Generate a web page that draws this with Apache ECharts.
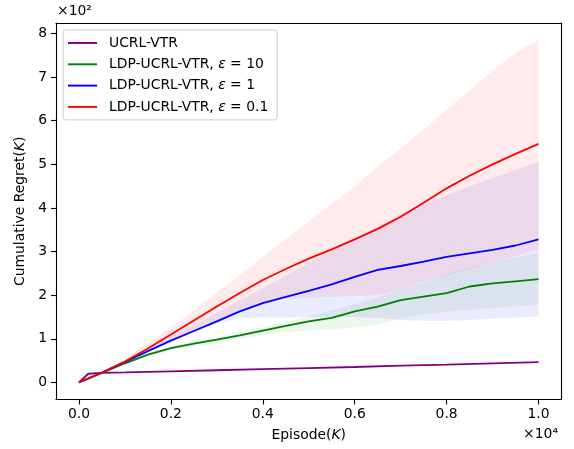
<!DOCTYPE html>
<html>
<head>
<meta charset="utf-8">
<script src="https://cdn.jsdelivr.net/npm/echarts@6/dist/echarts.min.js"></script>
<style>html,body{margin:0;padding:0;background:#fff}#c{width:574px;height:449px}</style>
</head>
<body>
<div id="c"></div>
<script>
// Episodes (K)
var episodes = [0,500,1000,1500,2000,2500,3000,3500,4000,4500,5000,5500,6000,6500,7000,7500,8000,8500,9000,9500,10000];
// UCRL-VTR (own x samples)
var ucrlEpisodes = [0,200,500,1000,2000,3000,4000,5000,6000,7000,8000,9000,10000];
var ucrl = [0,20,22,23,25.5,28,30.5,33,35.5,38.5,41,44,46.5];
// LDP-UCRL-VTR eps=10 (green)
var eps10 = [0,22,44,64,79,89,98,108,119,130,140,148,163,174,189,197,205,220,227,232,237];
var eps10Low = [0,21,42,60,73,83,91,100,109,115,120,121,126,132,147,157,162,167,171,175,178];
var eps10High = [0,23,46,67,83,94,104,115,127,139,151,165,180,195,212,230,248,263,275,287,297];
// eps=1 (blue)
var eps1 = [0,23,47,72,96,118,140,163,182,196,210,225,242,258,267,277,288,296,304,314,328];
var eps1Low = [0,22,46,70,94,115,136,148,149,149,150,150,150,148,143,141,141,143,146,149,151];
var eps1High = [0,24,50,77,105,132,160,188,216,245,274,302,330,358,385,408,430,450,468,487,507];
// eps=0.1 (red)
var eps01 = [0,23,48,78,110,142,174,205,235,260,284,305,328,352,380,412,445,474,500,524,547];
var eps01Low = [0,23,47,72,96,118,140,163,182,192,195,196,198,200,212,232,245,260,275,290,305];
var eps01High = [0,25,55,90,126,165,206,247,288,329,370,410,450,495,537,580,625,670,715,755,786];
// ticks
var xTicks = [0,2000,4000,6000,8000,10000];
var yTicks = [0,100,200,300,400,500,600,700,800];

var FONT = 'DejaVu Sans';
function pairs(xs, ys){ return xs.map(function(x,i){ return [x, ys[i]]; }); }

function band(low, high, color){
  var data = episodes.map(function(x,i){ return [x, low[i], high[i]]; });
  return {
    type:'custom', silent:true, z:1, data:data,
    encode:{x:0, y:[1,2]},
    renderItem:function(params, api){
      if (params.dataIndex !== 0) return null;
      var pts = [];
      for (var i = 0; i < data.length; i++) pts.push(api.coord([data[i][0], data[i][2]]));
      for (var j = data.length - 1; j >= 0; j--) pts.push(api.coord([data[j][0], data[j][1]]));
      return {type:'polygon', shape:{points:pts}, style:{fill:color, stroke:null}};
    }
  };
}
function line(name, xs, ys, color){
  return {type:'line', name:name, data:pairs(xs, ys), symbol:'none', color:color,
          lineStyle:{color:color, width:1.8}, z:3};
}

var series = [
  band(eps10Low, eps10High, 'rgba(0,128,0,0.07)'),
  band(eps1Low, eps1High, 'rgba(0,0,255,0.08)'),
  band(eps01Low, eps01High, 'rgba(255,0,0,0.08)'),
  line('UCRL-VTR', ucrlEpisodes, ucrl, '#800080'),
  line('LDP-UCRL-VTR, ε = 10', episodes, eps10, '#008000'),
  line('LDP-UCRL-VTR, ε = 1', episodes, eps1, '#0000ff'),
  line('LDP-UCRL-VTR, ε = 0.1', episodes, eps01, '#ff0000')
];

var axisLineStyle = {show:true, onZero:false, lineStyle:{color:'#000', width:1.1}};
var chart = echarts.init(document.getElementById('c'), null, {renderer:'canvas'});
chart.setOption({
  animation:false,
  backgroundColor:'#fff',
  grid:{left:56, top:23, right:12.5, bottom:49.5, containLabel:false},
  xAxis:[{
    type:'value', min:-500, max:10500, position:'bottom',
    axisLine:axisLineStyle,
    axisTick:{show:true, length:5, lineStyle:{color:'#000', width:1.1}, customValues:xTicks},
    axisLabel:{show:true, customValues:xTicks, margin:8, color:'#000', fontFamily:FONT, fontSize:13.9,
      formatter:function(v){ return (v/10000).toFixed(1); }},
    splitLine:{show:false},
    name:'Episode({i|K})', nameLocation:'middle', nameGap:29,
    nameTextStyle:{color:'#000', fontFamily:FONT, fontSize:13.9,
      rich:{i:{fontStyle:'italic', fontFamily:FONT, fontSize:13.9, color:'#000'}}}
  },{
    type:'value', min:-500, max:10500, position:'top',
    axisLine:axisLineStyle, axisTick:{show:false}, axisLabel:{show:false}, splitLine:{show:false}
  }],
  yAxis:[{
    type:'value', min:-39, max:824, position:'left',
    axisLine:axisLineStyle,
    axisTick:{show:true, length:5, lineStyle:{color:'#000', width:1.1}, customValues:yTicks},
    axisLabel:{show:true, customValues:yTicks, margin:9, color:'#000', fontFamily:FONT, fontSize:13.9,
      formatter:function(v){ return String(Math.round(v/100)); }},
    splitLine:{show:false},
    name:'Cumulative Regret({i|K})', nameLocation:'middle', nameGap:27,
    nameTextStyle:{color:'#000', fontFamily:FONT, fontSize:13.9,
      rich:{i:{fontStyle:'italic', fontFamily:FONT, fontSize:13.9, color:'#000'}}}
  },{
    type:'value', min:-39, max:824, position:'right',
    axisLine:axisLineStyle, axisTick:{show:false}, axisLabel:{show:false}, splitLine:{show:false}
  }],
  legend:{
    data:['UCRL-VTR','LDP-UCRL-VTR, ε = 10','LDP-UCRL-VTR, ε = 1','LDP-UCRL-VTR, ε = 0.1'],
    orient:'vertical', left:63, top:30,
    padding:[6,9,6,5], itemGap:7.3, itemWidth:29, itemHeight:14,
    icon:'path://M0,0h30v2h-30z',
    backgroundColor:'rgba(255,255,255,0.85)', borderColor:'#cccccc', borderWidth:1, borderRadius:3,
    formatter:function(n){ return n.replace('ε', '{i|ε}'); },
    textStyle:{color:'#000', fontFamily:FONT, fontSize:13.9, lineHeight:14, padding:[0,0,0,7],
      rich:{i:{fontStyle:'italic', fontFamily:FONT, fontSize:13.9, color:'#000', lineHeight:14}}},
    selectedMode:false
  },
  graphic:[
    {type:'text', left:57, top:4, style:{text:'×10²', font:'13.9px "DejaVu Sans"', fill:'#000'}},
    {type:'text', right:16, top:427, style:{text:'×10⁴', font:'13.9px "DejaVu Sans"', fill:'#000'}}
  ],
  series:series
});
</script>
</body>
</html>
